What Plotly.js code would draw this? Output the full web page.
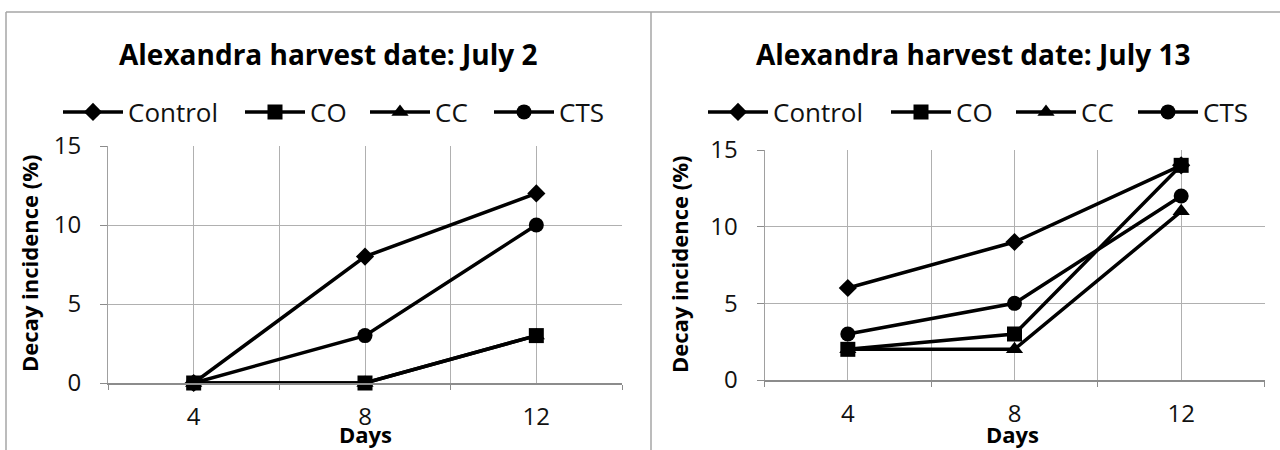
<!DOCTYPE html>
<html><head><meta charset="utf-8">
<script src="https://cdn.plot.ly/plotly-3.0.1.min.js"></script>
<style>html,body{margin:0;padding:0;background:#fff;}#chart{width:1280px;height:450px;}</style>
</head><body><div id="chart"></div>
<script>
const days = [4, 8, 12];
const seriesNames = ['Control', 'CO', 'CC', 'CTS'];
// Alexandra harvest date: July 2
const july2_control = [0, 8, 12];
const july2_co = [0, 0, 3];
const july2_cc = [0, 0, 3];
const july2_cts = [0, 3, 10];
// Alexandra harvest date: July 13
const july13_control = [6, 9, 14];
const july13_co = [2, 3, 14];
const july13_cc = [2, 2, 11];
const july13_cts = [3, 5, 12];
const titles = ['Alexandra harvest date: July 2', 'Alexandra harvest date: July 13'];
const yTitle = 'Decay incidence (%)';
const xTitle = 'Days';
const xTickLabels = ['4', '8', '12'];

const FONT = '"Open Sans", "Noto Sans", sans-serif';
const symbols = {Control:'diamond', CO:'square', CC:'triangle-up', CTS:'circle'};
const sizes = {Control:14, CO:15, CC:15, CTS:15};

function mk(name, y, xa, ya, leg) {
  return {
    x: days, y: y, name: name, type: 'scatter', mode: 'lines+markers',
    xaxis: xa, yaxis: ya, legend: leg,
    line: {color: '#000', width: 3.5},
    marker: {symbol: symbols[name], size: sizes[name], color: '#000'},
    cliponaxis: false, hoverinfo: 'x+y+name'
  };
}
// CC drawn before CO so the coinciding square covers it (as in the reference)
const data = [
  mk('Control', july2_control, 'x', 'y', 'legend'),
  mk('CC', july2_cc, 'x', 'y', 'legend3'),
  mk('CO', july2_co, 'x', 'y', 'legend2'),
  mk('CTS', july2_cts, 'x', 'y', 'legend4'),
  mk('Control', july13_control, 'x2', 'y2', 'legend5'),
  mk('CC', july13_cc, 'x2', 'y2', 'legend7'),
  mk('CO', july13_co, 'x2', 'y2', 'legend6'),
  mk('CTS', july13_cts, 'x2', 'y2', 'legend8')
];

const W = 1280, H = 450;
const px = v => v / W, py = v => 1 - v / H;
const grid = '#b0b0b0';

function xax(dom, anchor) {
  return {
    domain: dom, anchor: anchor, range: [2, 14], fixedrange: true,
    tickmode: 'array', tickvals: days, ticktext: xTickLabels,
    showgrid: true, gridcolor: grid, gridwidth: 1,
    ticks: '', showline: true, linecolor: '#8c8c8c', linewidth: 1.5,
    zeroline: false, ticklabelstandoff: 12,
    tickfont: {family: FONT, size: 24, color: '#111'},
    minor: {tickmode: 'array', tickvals: [2, 6, 10, 14], showgrid: true, gridcolor: grid, gridwidth: 1,
            ticks: 'outside', ticklen: 5, tickcolor: '#8c8c8c'},
    mirror: false
  };
}
function yax(dom, anchor) {
  return {
    domain: dom, anchor: anchor, range: [0, 15], fixedrange: true,
    tickmode: 'linear', tick0: 0, dtick: 5,
    showgrid: true, gridcolor: grid, gridwidth: 1,
    ticks: 'outside', ticklen: 7, tickcolor: '#8c8c8c',
    showline: true, linecolor: '#a0a0a0', linewidth: 1,
    zeroline: false, ticklabelstandoff: 14,
    tickfont: {family: FONT, size: 24, color: '#111'}
  };
}
function leg(lineStart, ycenter) {
  return {
    orientation: 'h', x: px(lineStart - 4), xanchor: 'left', y: py(ycenter), yanchor: 'middle',
    font: {family: FONT, size: 26, color: '#111'}, itemwidth: 60,
    bgcolor: 'rgba(0,0,0,0)', itemclick: false, itemdoubleclick: false
  };
}
function ann(text, x, y, size, angle) {
  return {text: '<b>' + text + '</b>', x: px(x), y: py(y), xref: 'paper', yref: 'paper', showarrow: false,
          textangle: angle || 0, xanchor: 'center', yanchor: 'middle', borderpad: 0,
          font: {family: FONT, size: size, color: '#000'}};
}

const layout = {
  width: W, height: H, margin: {l: 0, r: 0, t: 0, b: 0},
  paper_bgcolor: '#fff', plot_bgcolor: '#fff', showlegend: true,
  xaxis: xax([px(108), px(622)], 'y'),
  yaxis: yax([py(383), py(146)], 'x'),
  xaxis2: xax([px(764.5), px(1264.5)], 'y2'),
  yaxis2: yax([py(380), py(150)], 'x2'),
  legend: leg(62, 112),
  legend2: leg(244, 112),
  legend3: leg(369, 112),
  legend4: leg(493, 112),
  legend5: leg(707, 112),
  legend6: leg(890, 112),
  legend7: leg(1015, 112),
  legend8: leg(1137, 112),
  annotations: [
    ann(titles[0], 328, 54, 28),
    ann(titles[1], 973, 54, 28),
    ann(yTitle, 29, 264, 22, -90),
    ann(yTitle, 679, 265, 22, -90),
    ann(xTitle, 365, 434, 22),
    ann(xTitle, 1012, 434, 22)
  ],
  shapes: [
    {type: 'line', xref: 'paper', yref: 'paper', x0: px(6), x1: 1, y0: py(12), y1: py(12), line: {color: '#a6a6a6', width: 1.5}},
    {type: 'line', xref: 'paper', yref: 'paper', x0: px(6), x1: px(6), y0: py(12), y1: 0, line: {color: '#a6a6a6', width: 1.5}},
    {type: 'line', xref: 'paper', yref: 'paper', x0: px(651), x1: px(651), y0: py(12), y1: 0, line: {color: '#a6a6a6', width: 1.5}}
  ]
};

Plotly.newPlot('chart', data, layout, {displayModeBar: false, staticPlot: true});
</script>
</body></html>
